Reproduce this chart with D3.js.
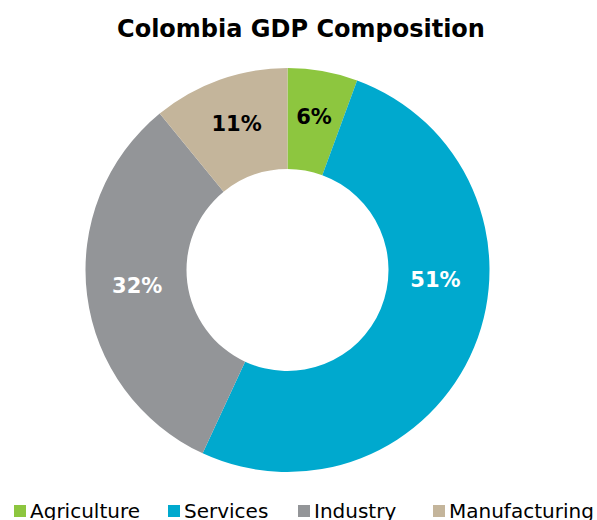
<!DOCTYPE html>
<html lang="en">
<head>
<meta charset="UTF-8">
<title>Colombia GDP Composition</title>
<script src="https://d3js.org/d3.v7.min.js"></script>
<style>
  body { margin: 0; background: #fff; overflow: hidden; }
  text { font-family: "DejaVu Sans", Verdana, sans-serif; }
</style>
</head>
<body>
<svg id="chart" width="597" height="520"></svg>
<script>
// data
const categories = ["Agriculture", "Services", "Industry", "Manufacturing"];
const shares = [5.6, 51.3, 32.2, 10.9];
const colors = ["#8dc63f", "#00a9ce", "#939598", "#c4b59b"];
const labelColors = ["#000", "#fff", "#fff", "#000"];

const svg = d3.select("#chart");
const cx = 287.5, cy = 270, outerR = 202, innerR = 101;

svg.append("text")
  .attr("x", 301)
  .attr("y", 37)
  .attr("text-anchor", "middle")
  .style("font-size", "24px")
  .style("font-weight", "bold")
  .text("Colombia GDP Composition");

const pie = d3.pie().sort(null).value(d => d)(shares);
const arc = d3.arc().innerRadius(innerR).outerRadius(outerR);
const g = svg.append("g").attr("transform", `translate(${cx},${cy})`);

g.selectAll("path")
  .data(pie)
  .join("path")
  .attr("d", arc)
  .attr("fill", (d, i) => colors[i]);

// excel pushes the big slice label up towards the horizontal
g.selectAll("text.lbl")
  .data(pie)
  .join("text")
  .attr("class", "lbl")
  .attr("transform", (d, i) => {
    let [x, y] = arc.centroid(d);
    if (i === 1) {
      const a = 95 * Math.PI / 180, r = (innerR + outerR) / 2 - 3;
      x = r * Math.sin(a); y = -r * Math.cos(a);
    }
    return `translate(${x},${y - 4})`;
  })
  .attr("text-anchor", "middle")
  .attr("dy", "0.36em")
  .style("font-size", "21px")
  .style("font-weight", "bold")
  .style("fill", (d, i) => labelColors[i])
  .text(d => Math.round(d.data) + "%");

// legend
const legendX = [14, 168, 298, 433];
const lg = svg.append("g");
categories.forEach((c, i) => {
  lg.append("rect")
    .attr("x", legendX[i]).attr("y", 505)
    .attr("width", 12).attr("height", 12)
    .attr("fill", colors[i]);
  lg.append("text")
    .attr("x", legendX[i] + 16).attr("y", 518)
    .style("font-size", "20px")
    .style("fill", "#000")
    .text(c);
});
</script>
</body>
</html>
